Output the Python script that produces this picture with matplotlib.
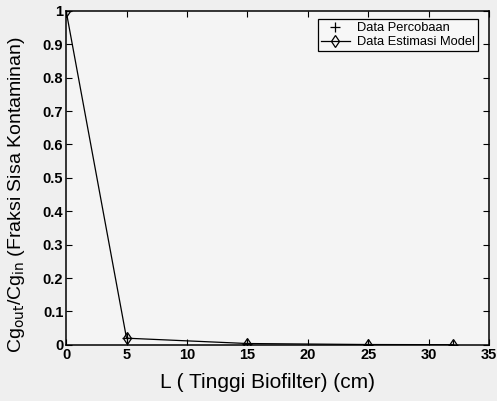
import numpy as np
import matplotlib.pyplot as plt

plt.rcParams['font.family'] = ['Liberation Sans', 'DejaVu Sans']

# tinggi biofilter (cm) dan fraksi sisa kontaminan
L_data = [0, 5, 15, 25, 32]
frac_percobaan = [1.0, 0.02, 0.003, 0.001, 0.0005]

L_model = [0, 5, 15, 25, 32]
frac_model = [1.0, 0.02, 0.004, 0.001, 0.0005]

x_ticks = [0, 5, 10, 15, 20, 25, 30, 35]
y_ticks = [0, 0.1, 0.2, 0.3, 0.4, 0.5, 0.6, 0.7, 0.8, 0.9, 1]
y_ticklabels = ['0', '0.1', '0.2', '0.3', '0.4', '0.5', '0.6', '0.7', '0.8', '0.9', '1']

fig = plt.figure(figsize=(4.97, 4.01), dpi=100, facecolor='#efefef')
ax = fig.add_axes([0.133, 0.140, 0.851, 0.833], facecolor='#f4f4f4')

ax.plot(L_data, frac_percobaan, '+', color='black', markersize=7, mew=0.9,
        label='Data Percobaan')
ax.plot(L_model, frac_model, '-', color='black', lw=0.9, marker='d',
        markersize=6, mfc='none', mew=0.9, label='Data Estimasi Model')

ax.set_xlim(0, 35)
ax.set_ylim(0, 1)
ax.set_xticks(x_ticks)
ax.set_yticks(y_ticks)
ax.set_yticklabels(y_ticklabels)
ax.tick_params(direction='in', top=True, right=True, length=4, labelsize=10.5, pad=2)
for lab in ax.get_xticklabels() + ax.get_yticklabels():
    lab.set_fontweight('bold')
for s in ax.spines.values():
    s.set_linewidth(1.1)

ax.set_xlabel('L ( Tinggi Biofilter) (cm)', fontsize=15)
ax.set_ylabel('Cg$_{\\mathrm{out}}$/Cg$_{\\mathrm{in}}$ (Fraksi Sisa Kontaminan)',
              fontsize=14)
ax.xaxis.set_label_coords(0.475, -0.085)
ax.yaxis.set_label_coords(-0.092, 0.45)

leg = ax.legend(loc='upper right', fontsize=9.3, frameon=True, fancybox=False,
                edgecolor='black', framealpha=1, facecolor='#f7f7f7',
                borderpad=0.25, handlelength=2.2, labelspacing=0.15,
                handletextpad=0.6, bbox_to_anchor=(0.99, 0.995))
leg.get_frame().set_linewidth(0.9)

fig.savefig('out.png', dpi=100, facecolor=fig.get_facecolor())
